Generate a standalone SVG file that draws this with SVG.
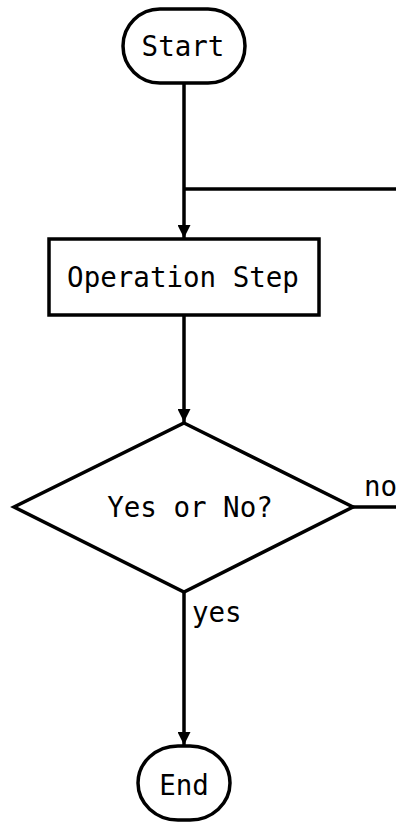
<svg xmlns="http://www.w3.org/2000/svg" width="396" height="823" viewBox="0 0 396 823">
<style>
.shape{fill:#fff;stroke:#000;stroke-width:3.5}
.line{fill:none;stroke:#000;stroke-width:3.5}
text{font-family:"DejaVu Sans Mono","Liberation Mono",monospace;font-size:27.5px;fill:#000}
.c{text-anchor:middle}
</style>
<defs>
<marker id="arrow" markerUnits="userSpaceOnUse" markerWidth="13" markerHeight="13" refX="13" refY="6.5" orient="auto">
<path d="M0,0 L13,6.5 L0,13 Z" fill="#000"/>
</marker>
</defs>
<rect width="396" height="823" fill="#fff"/>
<g id="connectors">
<line class="line" x1="184" y1="83" x2="184" y2="238" marker-end="url(#arrow)"/>
<line class="line" x1="184" y1="189" x2="396" y2="189"/>
<line class="line" x1="184" y1="315" x2="184" y2="422" marker-end="url(#arrow)"/>
<line class="line" x1="184" y1="592" x2="184" y2="745" marker-end="url(#arrow)"/>
<line class="line" x1="353" y1="507" x2="396" y2="507"/>
<text x="364" y="496">no</text>
<text x="192" y="622">yes</text>
</g>
<g id="start">
<rect class="shape" x="123" y="9" width="122" height="74" rx="37" ry="37"/>
<text class="c" x="183" y="56">Start</text>
</g>
<g id="operation">
<rect class="shape" x="49" y="239" width="270" height="76"/>
<text class="c" x="183" y="287">Operation Step</text>
</g>
<g id="decision">
<polygon class="shape" points="184,423 353,507 184,592 14,507"/>
<text class="c" x="190" y="517">Yes or No?</text>
</g>
<g id="end">
<rect class="shape" x="138" y="746" width="92" height="74" rx="40" ry="37"/>
<text class="c" x="184" y="795">End</text>
</g>
</svg>
